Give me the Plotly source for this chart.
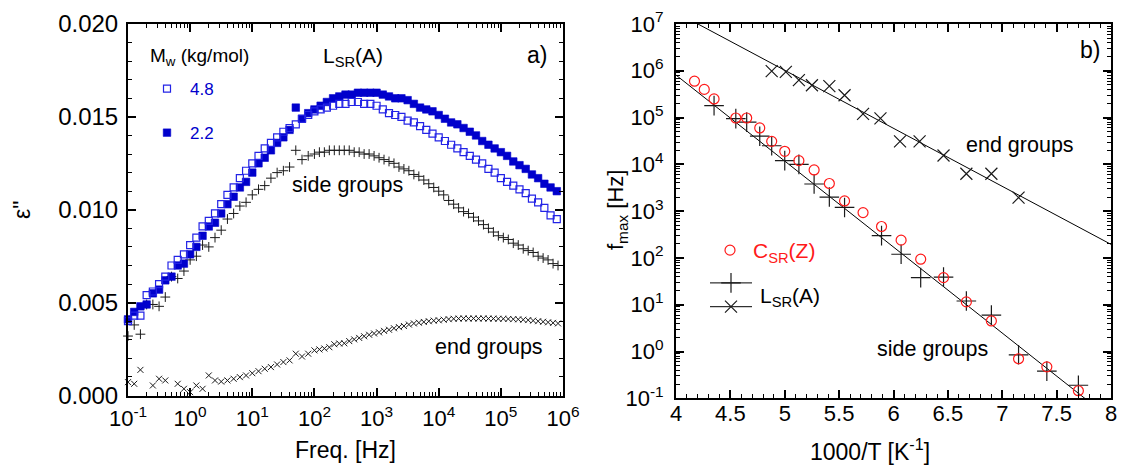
import plotly.graph_objects as go

W, H = 1126, 469

# ---------------- panel a) data : eps'' vs frequency ----------------
# log10(frequency / Hz) for the two M_w series (open / filled squares)
logf_sq = [-1.0, -0.9, -0.8, -0.7, -0.6, -0.5, -0.4, -0.3, -0.2, -0.1,
           0.0, 0.1, 0.2, 0.3, 0.4, 0.5, 0.6, 0.7, 0.8, 0.9,
           1.0, 1.1, 1.2, 1.3, 1.4, 1.5, 1.6, 1.7, 1.8, 1.9,
           2.0, 2.1, 2.2, 2.3, 2.4, 2.5, 2.6, 2.7, 2.8, 2.9,
           3.0, 3.1, 3.2, 3.3, 3.4, 3.5, 3.6, 3.7, 3.8, 3.9,
           4.0, 4.1, 4.2, 4.3, 4.4, 4.5, 4.6, 4.7, 4.8, 4.9,
           5.0, 5.1, 5.2, 5.3, 5.4, 5.5, 5.6, 5.7, 5.8, 5.9]
eps_48 = [0.0040, 0.0043, 0.0043, 0.0054, 0.0056, 0.0060, 0.0064, 0.0070, 0.0073, 0.0076,
          0.0081, 0.0085, 0.0091, 0.0094, 0.0098, 0.0103, 0.0108, 0.0112, 0.0117, 0.0121,
          0.0125, 0.0129, 0.0133, 0.0136, 0.0139, 0.0142, 0.0144, 0.0146, 0.0149, 0.0151,
          0.0153, 0.0154, 0.0155, 0.0156, 0.0157, 0.0157, 0.0158, 0.0158, 0.0157, 0.0157,
          0.0156, 0.0154, 0.0152, 0.0151, 0.0150, 0.0148, 0.0147, 0.0145, 0.0143, 0.0141,
          0.0139, 0.0137, 0.0135, 0.0133, 0.0131, 0.0129, 0.0127, 0.0125, 0.0122, 0.0120,
          0.0117, 0.0115, 0.0113, 0.0111, 0.0109, 0.0106, 0.0104, 0.0101, 0.0097, 0.0095]
eps_22 = [0.0041, 0.0045, 0.0048, 0.0049, 0.0055, 0.0057, 0.0062, 0.0064, 0.0070, 0.0071,
          0.0076, 0.0080, 0.0086, 0.0091, 0.0093, 0.0098, 0.0103, 0.0107, 0.0112, 0.0115,
          0.0120, 0.0125, 0.0128, 0.0132, 0.0136, 0.0139, 0.0143, 0.0155, 0.0149, 0.0152,
          0.0154, 0.0156, 0.0158, 0.0160, 0.0161, 0.0162, 0.0162, 0.0163, 0.0163, 0.0163,
          0.0163, 0.0162, 0.0161, 0.0160, 0.0160, 0.0159, 0.0157, 0.0155, 0.0154, 0.0153,
          0.0151, 0.0149, 0.0147, 0.0146, 0.0144, 0.0142, 0.0140, 0.0137, 0.0135, 0.0133,
          0.0131, 0.0129, 0.0126, 0.0124, 0.0122, 0.0119, 0.0117, 0.0114, 0.0112, 0.0110]

# log10(frequency / Hz) for the side-group (+) and end-group (x) series
logf_grp = [-1.0, -0.9, -0.8, -0.7, -0.6, -0.5, -0.4, -0.3, -0.2, -0.1,
            0.0, 0.1, 0.2, 0.3, 0.4, 0.5, 0.6, 0.7, 0.8, 0.9,
            1.0, 1.1, 1.2, 1.3, 1.4, 1.5, 1.6, 1.7, 1.8, 1.9, 2.0,
            2.08, 2.16, 2.24, 2.32, 2.40, 2.48, 2.56, 2.64, 2.72, 2.80,
            2.88, 2.96, 3.04, 3.12, 3.20, 3.28, 3.36, 3.44, 3.52, 3.60,
            3.68, 3.76, 3.84, 3.92, 4.00, 4.08, 4.16, 4.24, 4.32, 4.40,
            4.48, 4.56, 4.64, 4.72, 4.80, 4.88, 4.96, 5.04, 5.12, 5.20,
            5.28, 5.36, 5.44, 5.52, 5.60, 5.68, 5.76, 5.84, 5.92]
eps_side = [0.0032, 0.0038, 0.0033, 0.0049, 0.0049, 0.0048, 0.0053, 0.0064, 0.0063, 0.0067,
            0.0073, 0.0075, 0.0081, 0.0080, 0.0085, 0.0089, 0.0095, 0.0098, 0.0102, 0.0104,
            0.0108, 0.0111, 0.0113, 0.0117, 0.0120, 0.0121, 0.0123, 0.0132, 0.0127, 0.0129, 0.0130,
            0.0131, 0.0131, 0.0132, 0.0132, 0.0132, 0.0132, 0.0132, 0.0131, 0.0131, 0.0130,
            0.0130, 0.0129, 0.0128, 0.0127, 0.0126, 0.0125, 0.0123, 0.0122, 0.0121, 0.0119,
            0.0118, 0.0116, 0.0114, 0.0112, 0.0110, 0.0108, 0.0105, 0.0103, 0.0101, 0.0099,
            0.0098, 0.0096, 0.0094, 0.0092, 0.0090, 0.0088, 0.0086, 0.0085, 0.0084, 0.0082,
            0.0081, 0.0079, 0.0078, 0.0077, 0.0075, 0.0074, 0.0073, 0.0071, 0.0070]
eps_end = [0.00072, 0.00063, 0.00138, None, 0.00054, 0.00090, 0.00081, None, 0.00063, 0.00036,
           0.00018, 0.00054, 0.00036, 0.00108, 0.00081, 0.00075, 0.00081, 0.00090, 0.00099, 0.00108,
           0.00120, 0.00131, 0.00144, 0.00153, 0.00167, 0.00180, 0.00189, 0.00225, 0.00210, 0.00225, 0.00243,
           0.00248, 0.00253, 0.00260, 0.00276, 0.00280, 0.00281, 0.00293, 0.00302, 0.00310, 0.00319,
           0.00327, 0.00334, 0.00340, 0.00348, 0.00354, 0.00362, 0.00368, 0.00374, 0.00382, 0.00388,
           0.00392, 0.00396, 0.00400, 0.00403, 0.00405, 0.00408, 0.00411, 0.00413, 0.00414, 0.00415,
           0.00414, 0.00415, 0.00414, 0.00415, 0.00414, 0.00414, 0.00413, 0.00413, 0.00412, 0.00411,
           0.00410, 0.00408, 0.00406, 0.00403, 0.00400, 0.00397, 0.00394, 0.00391, 0.00388]

a_xtick_vals = [0.1, 1, 10, 100, 1e3, 1e4, 1e5, 1e6]
a_xtick_text = ["10<sup>-1</sup>", "10<sup>0</sup>", "10<sup>1</sup>", "10<sup>2</sup>",
                "10<sup>3</sup>", "10<sup>4</sup>", "10<sup>5</sup>", "10<sup>6</sup>"]

# ---------------- panel b) data : f_max vs 1000/T ----------------
invT_end = [4.88, 5.01, 5.13, 5.25, 5.41, 5.55, 5.72, 5.88, 6.06, 6.24, 6.46, 6.67, 6.90, 7.15]
fmax_end = [9.8e5, 9.5e5, 6.3e5, 4.9e5, 4.7e5, 3.0e5, 1.2e5, 9.6e4, 3.1e4, 3.1e4, 1.55e4, 6.3e3, 6.3e3, 1.95e3]

invT_side = [4.35, 4.55, 4.65, 4.77, 4.88, 5.00, 5.13, 5.27, 5.41, 5.55,
             5.89, 6.07, 6.25, 6.46, 6.67, 6.90, 7.15, 7.41, 7.70]
fmax_side = [1.8e5, 9.5e4, 8.0e4, 4.0e4, 2.5e4, 1.2e4, 1.0e4, 3.8e3, 2.0e3, 1.2e3,
             3.0e2, 1.2e2, 38, 39, 12, 6.0, 0.85, 0.38, 0.19]

invT_cz = [4.17, 4.26, 4.35, 4.55, 4.65, 4.77, 4.88, 5.00, 5.13, 5.27, 5.41,
           5.55, 5.72, 5.89, 6.07, 6.25, 6.46, 6.67, 6.90, 7.15, 7.41, 7.70]
fmax_cz = [6.0e5, 4.0e5, 2.5e5, 9.8e4, 9.8e4, 6.0e4, 3.1e4, 1.9e4, 1.2e4, 7.6e3, 3.9e3,
           1.65e3, 9.3e2, 4.7e2, 2.4e2, 94, 38, 11.5, 4.5, 0.7, 0.47, 0.145]

fit_invT = [4.0, 8.0]
fit_end = [1.78e7, 195]
fit_side = [8.1e5, 0.036]

b_ytick_vals = [0.1, 1, 10, 100, 1e3, 1e4, 1e5, 1e6, 1e7]
b_ytick_text = ["10<sup>-1</sup>", "10<sup>0</sup>", "10<sup>1</sup>", "10<sup>2</sup>", "10<sup>3</sup>",
                "10<sup>4</sup>", "10<sup>5</sup>", "10<sup>6</sup>", "10<sup>7</sup>"]

# ---------------- figure ----------------
FONT = "Liberation Sans, Arial, sans-serif"
BLUE = "#0000cc"
BLUE_OPEN = "#2323e6"
DARK = "#1a1a1a"

freq_sq = [10 ** v for v in logf_sq]
freq_grp = [10 ** v for v in logf_grp]


def px(x):
    return x / W


def py(y):
    return 1 - y / H


fig = go.Figure()

# panel a
fig.add_trace(go.Scatter(x=freq_grp, y=eps_end, mode="markers", xaxis="x", yaxis="y",
                         marker=dict(symbol="x-thin-open", size=6, color=DARK, line=dict(width=1, color=DARK)),
                         showlegend=False, cliponaxis=False, name="end groups"))
fig.add_trace(go.Scatter(x=freq_grp, y=eps_side, mode="markers", xaxis="x", yaxis="y",
                         marker=dict(symbol="cross-thin-open", size=7, color=DARK, line=dict(width=1, color=DARK)),
                         showlegend=False, cliponaxis=False, name="side groups"))
fig.add_trace(go.Scatter(x=freq_sq, y=eps_22, mode="markers", xaxis="x", yaxis="y",
                         marker=dict(symbol="square", size=7.5, color=BLUE, line=dict(width=0.6, color=BLUE)),
                         name="2.2", legend="legend", legendgroup="b", legendrank=2, cliponaxis=False))
fig.add_trace(go.Scatter(x=freq_sq, y=eps_48, mode="markers", xaxis="x", yaxis="y",
                         marker=dict(symbol="square-open", size=7, color=BLUE_OPEN, line=dict(width=1.2)),
                         name="4.8", legend="legend", legendgroup="a", legendrank=1, cliponaxis=False))

# panel b
fig.add_trace(go.Scatter(x=fit_invT, y=fit_end, mode="lines", xaxis="x2", yaxis="y2",
                         line=dict(color="black", width=1), showlegend=False))
fig.add_trace(go.Scatter(x=fit_invT, y=fit_side, mode="lines", xaxis="x2", yaxis="y2",
                         line=dict(color="black", width=1), showlegend=False))
fig.add_trace(go.Scatter(x=invT_end, y=fmax_end, mode="markers", xaxis="x2", yaxis="y2",
                         marker=dict(symbol="x-thin-open", size=12, color=DARK, line=dict(width=1.2, color=DARK)),
                         showlegend=False))
fig.add_trace(go.Scatter(x=invT_side, y=fmax_side, mode="markers", xaxis="x2", yaxis="y2",
                         marker=dict(symbol="cross-thin-open", size=14, color=DARK, line=dict(width=1.2, color=DARK)),
                         showlegend=False))
fig.add_trace(go.Scatter(x=invT_cz, y=fmax_cz, mode="markers", xaxis="x2", yaxis="y2",
                         marker=dict(symbol="circle-open", size=10, color="#ff1a1a", line=dict(width=1.2)),
                         name="C<sub>SR</sub>(Z)", legend="legend2"))
# legend keys for L_SR(A)
fig.add_trace(go.Scatter(x=[None], y=[None], mode="lines+markers", xaxis="x2", yaxis="y2",
                         marker=dict(symbol="cross-thin-open", size=14, color=DARK, line=dict(width=1.2, color=DARK)),
                         line=dict(color="black", width=1), name=" ", legend="legend3", legendrank=1))
fig.add_trace(go.Scatter(x=[None], y=[None], mode="lines+markers", xaxis="x2", yaxis="y2",
                         marker=dict(symbol="x-thin-open", size=12, color=DARK, line=dict(width=1.2, color=DARK)),
                         line=dict(color="black", width=1), name=" ", legend="legend3", legendrank=2))

axis_common = dict(showline=True, linewidth=2, linecolor="black", mirror="allticks",
                   ticks="inside", ticklen=8, tickwidth=1.5, tickcolor="black",
                   showgrid=False, zeroline=False, automargin=False,
                   tickfont=dict(family=FONT, size=22, color="black"))
minor_common = dict(ticks="inside", ticklen=4, tickwidth=1.2, tickcolor="black", showgrid=False)

fig.update_layout(
    template="none",
    width=W, height=H,
    margin=dict(l=0, r=0, t=0, b=0, pad=0, autoexpand=False),
    paper_bgcolor="white", plot_bgcolor="white",
    font=dict(family=FONT, color="black"),
    xaxis=dict(domain=[px(128), px(563)], anchor="y", type="log", range=[-1, 6],
               tickmode="array", tickvals=a_xtick_vals, ticktext=a_xtick_text,
               minor=dict(dtick="D1", **minor_common), ticklabelstandoff=2, **axis_common),
    yaxis=dict(domain=[py(395.5), py(24)], anchor="x", range=[0, 0.020], dtick=0.005, tick0=0,
               tickformat=".3f", minor=dict(dtick=0.001, **minor_common), ticklabelstandoff=3,
               **{**axis_common, "tickfont": dict(family=FONT, size=24, color="black")}),
    xaxis2=dict(domain=[px(676), px(1111)], anchor="y2", range=[4, 8], dtick=0.5, tick0=4,
                minor=dict(dtick=0.1, **minor_common), ticklabelstandoff=-6, **axis_common),
    yaxis2=dict(domain=[py(398.3), py(24)], anchor="x2", type="log", range=[-1, 7],
                tickmode="array", tickvals=b_ytick_vals, ticktext=b_ytick_text,
                minor=dict(dtick="D1", **minor_common), ticklabelstandoff=6, **axis_common),
    legend=dict(x=px(144), y=py(71), xanchor="left", yanchor="top",
                font=dict(family=FONT, size=17, color=BLUE),
                bgcolor="rgba(0,0,0,0)", borderwidth=0, itemwidth=36,
                traceorder="grouped", tracegroupgap=19),
    legend2=dict(x=px(707), y=py(230), xanchor="left", yanchor="top",
                 font=dict(family=FONT, size=21, color="#ff1a1a"),
                 bgcolor="rgba(0,0,0,0)", borderwidth=0, itemwidth=36),
    legend3=dict(x=px(705), y=py(266), xanchor="left", yanchor="top",
                 font=dict(family=FONT, size=16, color="black"),
                 bgcolor="rgba(0,0,0,0)", borderwidth=0, itemwidth=42, tracegroupgap=0),
)


def note(text, x, y, size, angle=0, color="black", xanchor="center"):
    fig.add_annotation(text=text, x=px(x), y=py(y), xref="paper", yref="paper",
                       showarrow=False, textangle=angle, xanchor=xanchor, yanchor="middle",
                       font=dict(family=FONT, size=size, color=color))


note('ε"', 22, 210, 23, angle=-90)
note("Freq. [Hz]", 345, 450, 23)
note("f<sub>max</sub> [Hz]", 617, 210, 22, angle=-90)
note("1000/T [K<sup>-1</sup>]", 870, 450, 23)
note("M<sub>w</sub> (kg/mol)", 148, 57, 19, xanchor="left")
note("L<sub>SR</sub>(A)", 353, 57, 21)
note("a)", 537, 55, 23)
note("b)", 1090, 50, 23)
note("side groups", 347, 185, 21.5)
note("end groups", 489, 347, 21.5)
note("end groups", 1020, 145, 21.5)
note("side groups", 932, 349, 21.5)
note("L<sub>SR</sub>(A)", 758, 297, 21, xanchor="left")

fig.write_html("out.html")
